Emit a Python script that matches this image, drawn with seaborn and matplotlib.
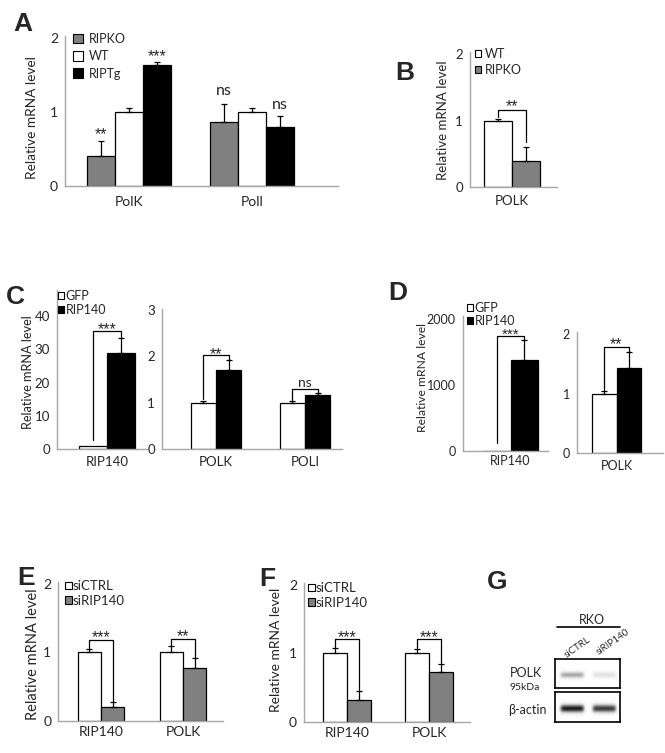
import numpy as np
import pandas as pd
import matplotlib
matplotlib.use('Agg')
import matplotlib.pyplot as plt
import seaborn as sns
from matplotlib.patches import Patch

# ---- values ----
a_genes = ['PolK', 'Poll']
a_groups = ['RIPKO', 'WT', 'RIPTg']
a_vals = [[0.41, 0.86], [1.0, 1.0], [1.63, 0.80]]
a_errs = [[0.20, 0.25], [0.05, 0.05], [0.04, 0.14]]
# (group, gene, mark, y of mark)
a_sig = [(0, 0, '**', 0.755), (2, 0, '***', 1.81), (0, 1, 'ns', 1.285), (2, 1, 'ns', 1.09)]

b_genes = ['POLK']
b_groups = ['WT', 'RIPKO']
b_vals = [[1.0], [0.39]]
b_errs = [[0.03], [0.21]]
# (gene, mark, bracket top, left leg end, right leg end, y of mark)
b_sig = [(0, '**', 1.157, 1.06, 0.68, 1.28)]

c_groups = ['GFP', 'RIP140']
c1_genes = ['RIP140']
c1_vals = [[1.0], [29.0]]
c1_errs = [[0.0], [4.3]]
c1_sig = [(0, '***', 35.6, 2.7, 33.3, 37.4)]
c2_genes = ['POLK', 'POLI']
c2_vals = [[1.0, 1.0], [1.70, 1.16]]
c2_errs = [[0.04, 0.03], [0.23, 0.04]]
c2_sig = [(0, '**', 2.02, 1.08, 1.93, 2.15), (1, 'ns', 1.29, 1.06, 1.20, 1.42)]

d1_genes = ['RIP140']
d1_vals = [[1.0], [1385]]
d1_errs = [[0.0], [300]]
d1_sig = [(0, '***', 1748, 126, 1685, 1840)]
d2_genes = ['POLK']
d2_vals = [[1.0], [1.44]]
d2_errs = [[0.05], [0.27]]
d2_sig = [(0, '**', 1.79, 1.06, 1.71, 1.92)]

ef_genes = ['RIP140', 'POLK']
ef_groups = ['siCTRL', 'siRIP140']
e_vals = [[1.0, 1.0], [0.205, 0.766]]
e_errs = [[0.05, 0.10], [0.065, 0.145]]
e_sig = [(0, '***', 1.18, 1.07, 0.28, 1.29), (1, '**', 1.195, 1.11, 0.92, 1.30)]
f_vals = [[1.0, 1.0], [0.317, 0.73]]
f_errs = [[0.08, 0.07], [0.135, 0.12]]
f_sig = [(0, '***', 1.21, 1.09, 0.46, 1.30), (1, '***', 1.21, 1.08, 0.86, 1.30)]

g_lanes = ['siCTRL', 'siRIP140']
g_polk = [0.45, 0.20]
g_actin = [0.92, 0.82]

GRAY = '#808080'
SPINE = '#a6a6a6'
W, H = 665, 753

sns.set_style('white')
plt.rcParams['font.family'] = ['Lato', 'DejaVu Sans']

fig = plt.figure(figsize=(W / 100, H / 100), dpi=100)


def ptext(x, y, s, **kw):
    return fig.text(x / W, 1 - y / H, s, **kw)


def make_ax(left, right, y0, ppu, ymax):
    top = y0 - ymax * ppu
    return fig.add_axes([left / W, 1 - y0 / H, (right - left) / W, (y0 - top) / H])


def draw(ax, genes, groups, vals, errs, colors, width):
    rows = [(g, grp, v) for grp, vs in zip(groups, vals) for g, v in zip(genes, vs)]
    df = pd.DataFrame(rows, columns=['gene', 'group', 'value'])
    sns.barplot(data=df, x='gene', y='value', hue='group', order=genes, hue_order=groups,
                palette=colors, width=width, gap=0, saturation=1, edgecolor='black',
                linewidth=0.9, errorbar=None, legend=False, ax=ax)
    centers = []
    for cont, es in zip(ax.containers, errs):
        xs = [p.get_x() + p.get_width() / 2 for p in cont.patches]
        hs = [p.get_height() for p in cont.patches]
        for x, h, e in zip(xs, hs, es):
            if e > 0:
                ax.errorbar(x, h, yerr=[[0], [e]], fmt='none', ecolor='black',
                            elinewidth=0.9, capsize=2, capthick=0.9)
        centers.append(xs)
    return centers


def style(ax, left, right, c0, unit, ymax, yticks, xpad, fs):
    ax.set_xlim((left - c0) / unit, (right - c0) / unit)
    ax.set_ylim(0, ymax)
    ax.set_yticks(yticks)
    ax.set_xlabel('')
    ax.set_ylabel('')
    ax.set_facecolor('none')
    for s in ['top', 'right']:
        ax.spines[s].set_visible(False)
    for s in ['left', 'bottom']:
        ax.spines[s].set_color(SPINE)
        ax.spines[s].set_linewidth(1)
    ax.tick_params(axis='x', length=0, pad=xpad, labelsize=fs)
    ax.tick_params(axis='y', length=3, color=SPINE, width=1, pad=2, labelsize=fs)


def mark(ax, x, y, s, fs):
    star = '*' in s
    ax.annotate(s, (x, y), xytext=(0, -(0.6 if star else 0.27) * fs),
                textcoords='offset points', ha='center', va='baseline', fontsize=fs,
                family='Liberation Sans' if star else ['Lato'])


def brackets(ax, cx, sig, fs=11.5):
    for k, m, top, yl, yr, ty in sig:
        x1, x2 = cx[0][k], cx[1][k]
        ax.plot([x1, x1, x2, x2], [yl, top, top, yr], color='black', lw=0.9)
        mark(ax, (x1 + x2) / 2, ty, m, fs if '*' in m else 10)


def legend(ax, labels, colors, x, y, fs, hs, sp, tp=0.2):
    hands = [Patch(facecolor=c, edgecolor='black', linewidth=0.8, label=l)
             for l, c in zip(labels, colors)]
    ax.legend(handles=hands, loc='upper left', bbox_to_anchor=(x / W, 1 - y / H),
              bbox_transform=fig.transFigure, frameon=False, fontsize=fs,
              handlelength=hs, handleheight=hs, handletextpad=tp, labelspacing=sp,
              borderpad=0, borderaxespad=0)


# ---- A ----
ax = make_ax(65, 338, 186, 74.2, 2.02)
cx = draw(ax, a_genes, a_groups, a_vals, a_errs, [GRAY, 'white', 'black'], 0.683)
style(ax, 65, 338, 129, 123, 2.02, [0, 1, 2], 7, 10)
for gi, k, m, ty in a_sig:
    mark(ax, cx[gi][k], ty, m, 11.5)
legend(ax, a_groups, [GRAY, 'white', 'black'], 73, 33, 9, 0.8, 0.42, 0.45)
ptext(31.7, 118, 'Relative mRNA level', rotation=90, ha='center', va='center', fontsize=9.8)

# ---- B ----
ax = make_ax(470, 557, 186.7, 66.2, 2.03)
cx = draw(ax, b_genes, b_groups, b_vals, b_errs, ['white', GRAY], 0.8)
style(ax, 470, 557, 512, 70, 2.03, [0, 1, 2], 6, 9.5)
brackets(ax, cx, b_sig)
legend(ax, b_groups, ['white', GRAY], 475, 48, 9, 0.45, 0.3, 0.3)
ptext(442.7, 120, 'Relative mRNA level', rotation=90, ha='center', va='center', fontsize=9.5)

# ---- C ----
ax = make_ax(56.7, 147, 449, 3.325, 47.8)
cx = draw(ax, c1_genes, c_groups, c1_vals, c1_errs, ['white', 'black'], 0.8)
style(ax, 56.7, 147, 107, 70, 47.8, [0, 10, 20, 30, 40], 5, 9.5)
brackets(ax, cx, c1_sig)
legend(ax, c_groups, ['white', 'black'], 58, 290, 9, 0.5, 0.15, 0.1)
ptext(28.3, 372, 'Relative mRNA level', rotation=90, ha='center', va='center', fontsize=9.2)

ax = make_ax(162, 342, 449, 46.33, 3.03)
cx = draw(ax, c2_genes, c_groups, c2_vals, c2_errs, ['white', 'black'], 0.573)
style(ax, 162, 342, 216, 89, 3.03, [0, 1, 2, 3], 5, 9.5)
brackets(ax, cx, c2_sig)

# ---- D ----
ax = make_ax(462.7, 548, 451, 0.066, 2040)
cx = draw(ax, d1_genes, c_groups, d1_vals, d1_errs, ['white', 'black'], 0.8)
style(ax, 462.7, 548, 510.5, 68.75, 2040, [0, 1000, 2000], 3, 9)
brackets(ax, cx, d1_sig, 11)
legend(ax, c_groups, ['white', 'black'], 467, 302, 9, 0.5, 0.1, 0.1)
ptext(422.7, 378, 'Relative mRNA level', rotation=90, ha='center', va='center', fontsize=8.7)

ax = make_ax(576.7, 663, 453.3, 59.5, 2.04)
cx = draw(ax, d2_genes, c_groups, d2_vals, d2_errs, ['white', 'black'], 0.8)
style(ax, 576.7, 663, 616.5, 61.25, 2.04, [0, 1, 2], 5, 9)
brackets(ax, cx, d2_sig)

# ---- E / F ----
for vals, errs, sig, lay in [
        (e_vals, e_errs, e_sig, (58.3, 222.7, 720.7, 101, 82, 0.573, 65, 580, 33.3, 654, 10.5)),
        (f_vals, f_errs, f_sig, (304, 470, 721.7, 347, 82, 0.585, 308, 582, 276, 650, 10))]:
    left, right, y0, c0, unit, wd, lx, ly, yx, yy, yfs = lay
    ax = make_ax(left, right, y0, 68.35, 2.03)
    cx = draw(ax, ef_genes, ef_groups, vals, errs, ['white', GRAY], wd)
    style(ax, left, right, c0, unit, 2.03, [0, 1, 2], 4, 10)
    brackets(ax, cx, sig)
    legend(ax, ef_groups, ['white', GRAY], lx, ly, 9.5, 0.5, 0.2, 0.1)
    ptext(yx, yy, 'Relative mRNA level', rotation=90, ha='center', va='center', fontsize=yfs)


# ---- G: blot ----
def blot(y_top, y_bot, inten, sigma):
    bx = fig.add_axes([555 / W, 1 - y_bot / H, 65 / W, (y_bot - y_top) / H])
    xs = np.linspace(-0.5, 1.5, 260)
    ys = np.linspace(0, 1, 60)
    img = np.zeros((len(ys), len(xs)))
    for i, v in enumerate(inten):
        c = [0.03, 1.02][i]
        colmask = 1 / (1 + np.exp((np.abs(xs - c) - 0.36) / 0.03))
        rowprof = np.exp(-((ys - 0.45) / sigma) ** 2)
        img += v * np.outer(rowprof, colmask)
    bx.imshow(img, cmap='Greys', vmin=0, vmax=1, extent=(-0.5, 1.5, 0, 1),
              aspect='auto', origin='lower', interpolation='bilinear')
    bx.set_xticks([])
    bx.set_yticks([])
    for s in bx.spines.values():
        s.set_color('black')
        s.set_linewidth(1.2)
    return bx


blot(659, 688, g_polk, 0.12)
blot(692, 722, g_actin, 0.14)
ptext(591.7, 620, 'RKO', ha='center', va='center', fontsize=9)
fig.add_artist(plt.Line2D([557 / W, 620 / W], [1 - 627 / H, 1 - 627 / H], color='black', lw=1.2))
ptext(577, 647, g_lanes[0], ha='center', va='center', fontsize=7, rotation=35)
ptext(613, 642, g_lanes[1], ha='center', va='center', fontsize=7, rotation=35)
ptext(526, 673, 'POLK', ha='center', va='center', fontsize=9)
ptext(525, 688, '95kDa', ha='center', va='center', fontsize=7.5)
ptext(527, 710, 'β-actin', ha='center', va='center', fontsize=9)

# ---- panel letters ----
for lt, x, y in [('A', 23, 24), ('B', 405, 73), ('C', 15, 297), ('D', 398, 293),
                 ('E', 26, 578), ('F', 267, 579), ('G', 497, 582)]:
    ptext(x, y, lt, ha='center', va='center', fontsize=19, fontweight='bold',
          family='Liberation Sans')

fig.savefig('out.png', dpi=100)
